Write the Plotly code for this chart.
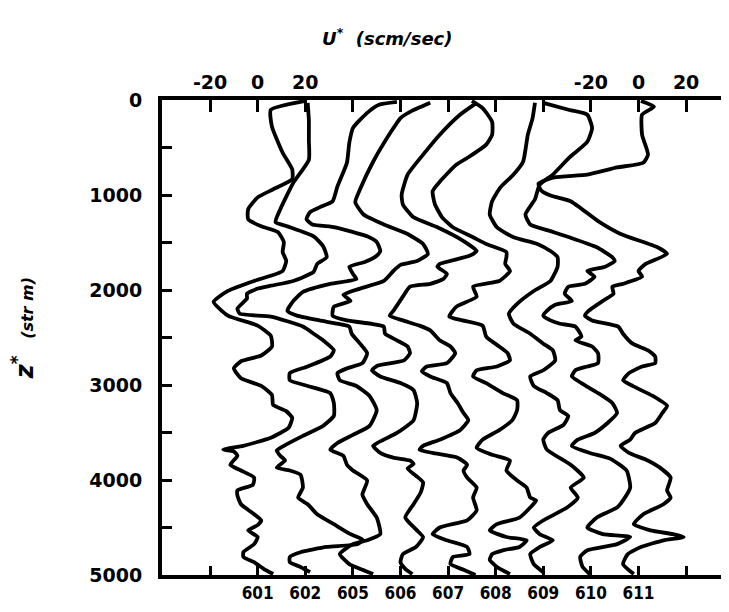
import plotly.graph_objects as go

stations = ["601", "602", "605", "606", "607", "608", "609", "610", "611"]

z601 = [10,105,280,555,730,835,940,1025,1150,1255,1330,1390,1495,1600,1695,1800,1850,1905,2010,2125,2270,2375,2480,2595,2690,2750,2825,2930,3010,3105,3210,3275,3345,3450,3555,3640,3680,3700,3745,3840,3900,3975,4050,4110,4165,4255,4360,4425,4475,4530,4600,4675,4760,4810,4865,4935,4990]
u601 = [20,5.5,6,10.5,14.5,14.5,6.5,0,-4,-4,1.5,8.5,11,10.5,12,10.5,5.5,-1.5,-12.5,-18.5,-12.5,0,5.5,6,1.5,-7,-10,-7,1.5,6,6.5,12,14.5,13,5.5,-6,-14.5,-10,-8.5,-11.5,-7,-1.5,-2,-8.5,-8.5,-7,-1.5,1.5,0,-4,0,-1.5,-6,-6,-1.5,2.5,6.5]

z602 = [30,210,420,630,870,1150,1285,1330,1435,1540,1655,1725,1810,1905,1955,1985,2040,2090,2195,2250,2280,2385,2460,2530,2635,2700,2805,2875,2950,3010,3085,3190,3325,3430,3535,3640,3690,3745,3795,3870,3900,3945,4080,4185,4255,4360,4465,4570,4625,4675,4705,4760,4810,4865,4915,4970]
u602 = [1,1.5,1.5,1.5,-5,-10.5,-12.5,-7.5,3.5,7.5,9,5,3.5,-5,-14.5,-20,-24.5,-24.5,-28.5,-27.5,-14.5,-1,3.5,7.5,12,10.5,1,-6.5,-6.5,1,10.5,12,12,7.5,-1,-9,-12,-10.5,-8.5,-12,-6.5,-2,-1,-3,1,5,12,19,24,22,9,-2,-6.5,-6.5,-2,2]

z605 = [20,50,135,295,450,660,910,1065,1130,1180,1255,1310,1340,1435,1495,1590,1640,1705,1755,1830,1885,1935,2020,2115,2220,2270,2320,2355,2385,2460,2565,2665,2770,2825,2875,2950,3010,3115,3265,3430,3525,3610,3680,3745,3840,3900,4005,4155,4255,4395,4570,4635,4675,4780,4885,4945,4990]
u605 = [18.5,11,6,0,-1.5,-2.5,-6.5,-8.5,-14,-18,-19.5,-17,-7.5,6,10,11.5,10,5,-1.5,0,1.5,-9.5,-21,-25,-27.5,-23.5,-14,-6.5,-1.5,-0.5,3,6,4,-2.5,-6.5,-5.5,1.5,7,10,7,0,-6.5,-9.5,-4,-2.5,0,6,4,6,10,11.5,6,0,-5.5,-1.5,4,8.5]

z606 = [30,125,190,335,650,940,1075,1205,1310,1410,1515,1620,1695,1735,1800,1905,1985,2050,2115,2175,2270,2320,2355,2385,2460,2530,2595,2665,2740,2795,2845,2910,2980,3055,3190,3370,3505,3575,3640,3715,3765,3795,3830,3880,3955,4025,4130,4255,4395,4520,4600,4705,4780,4865,4935,4990]
u606 = [12.5,4,0,-4,-11.5,-17,-19,-15.5,-7,3,9.5,11.5,7,0,-3,-7,-17,-24,-21,-28,-28.5,-22.5,-12.5,-7,-6.5,-1.5,3,4,1.5,-9.5,-12,-8.5,0,5.5,7,5.5,-1.5,-7,-11.5,-8.5,-3,4,5.5,3,6.5,9.5,8.5,5.5,2,6.5,9.5,6.5,1,0,2,5]

z607 = [30,155,365,575,785,995,1100,1235,1340,1485,1590,1640,1725,1755,1830,1885,1935,1965,2070,2220,2270,2320,2375,2425,2530,2595,2665,2770,2805,2855,2910,2980,3085,3190,3295,3370,3475,3575,3640,3680,3715,3765,3840,3900,3975,4080,4185,4320,4425,4500,4570,4635,4705,4780,4810,4885,4945,5000]
u607 = [12,5,-3.5,-10.5,-17,-19.5,-19,-14.5,-4.5,6.5,12,9,-3.5,-4.5,-0.5,-2,-7.5,-16,-19,-23,-24.5,-19,-12,-7.5,-3.5,1,3,-0.5,-9,-11,-7.5,-0.5,1,4,6.5,8.5,5,-3.5,-10.5,-12,-6.5,4,8,6.5,8,12,10.5,12,8,-3.5,-6.5,-0.5,8,9,2,1,6.5,11.5]

z608 = [10,85,230,365,470,595,680,860,960,1100,1235,1340,1445,1515,1600,1655,1725,1800,1905,1965,2070,2175,2280,2320,2375,2490,2595,2665,2740,2805,2845,2910,2980,3085,3160,3265,3370,3475,3575,3660,3735,3795,3900,4005,4080,4185,4215,4290,4395,4465,4530,4600,4635,4705,4740,4780,4840,4915,4990]
u608 = [-10,-5.5,-1.5,-1.5,-4,-11,-16.5,-23.5,-26.5,-25.5,-22.5,-18,-9.5,-4,4.5,4.5,4,6,1.5,-9.5,-8,-16.5,-19.5,-14,-5.5,-4,1.5,5,6,0.5,-8,-9.5,-4,3,9,9,7,1.5,-5.5,-8,-1.5,6,4.5,9,13,14.5,17,14.5,10,0.5,-2.5,4.5,13,10,3,-1.5,-2.5,0.5,6]

z609 = [30,190,365,650,785,920,1065,1205,1340,1445,1515,1590,1655,1755,1905,2010,2145,2250,2355,2460,2565,2635,2740,2845,2910,3010,3085,3160,3265,3325,3420,3505,3575,3680,3840,3975,4080,4185,4290,4425,4500,4570,4635,4705,4780,4885,4970]
u609 = [-3.5,-4.5,-6.5,-8.5,-12.5,-18,-21.5,-22.5,-19.5,-12.5,-2.5,3,6,6,3,-4,-11,-14.5,-12.5,-5.5,0,4,5,0,-5.5,-4,1.5,6,7,10.5,8.5,2,0,1.5,11.5,17,11.5,14.5,10,0,-4,-1.5,4,-1.5,-5.5,-4,0]

z610 = [30,105,155,295,440,605,785,890,1045,1205,1310,1380,1445,1550,1655,1695,1755,1800,1860,1935,1965,2040,2115,2155,2220,2270,2320,2355,2385,2490,2530,2595,2665,2770,2805,2845,2910,2980,3085,3190,3295,3400,3505,3575,3640,3715,3775,3900,4080,4215,4290,4395,4500,4570,4600,4675,4740,4810,4915,4990]
u610 = [-20,-9,-1.5,0.5,-1.5,-9,-16,-21.5,-23.5,-27.5,-25.5,-17,-9,2.5,9,10,6,-1.5,1.5,-2.5,-9.5,-11,-8,-15,-18.5,-20,-17,-13,-6.5,-4,-6.5,0.5,3,3,-1.5,-6.5,-8,-4,3,9,11,7,1.5,-5.5,-8,-0.5,8,15,16.5,13.5,11,2.5,-1.5,5,16.5,11,-1.5,-4.5,-3.5,-0.5]

z611 = [10,70,155,365,575,660,710,785,815,880,950,1005,1065,1275,1410,1550,1620,1725,1800,1860,1935,1965,2040,2115,2220,2270,2320,2385,2460,2565,2635,2700,2770,2805,2875,2950,3010,3115,3220,3295,3400,3505,3575,3640,3715,3785,3870,3975,4110,4185,4255,4360,4465,4530,4570,4600,4635,4705,4780,4885,4990]
u611 = [1,6.5,1.5,1.5,4,2,-9,-21.5,-35.5,-42,-41,-37,-28.5,-17,-7.5,8,12,3,0,1.5,-6.5,-11,-10.5,-15,-21,-22.5,-19.5,-8.5,-6.5,-2.5,4,7,7,1.5,-4,-6.5,-2.5,6,12,10,7,-1.5,-3.5,-7.5,-4,3,9,13.5,12,13.5,10.5,2,-2,5,14.5,19,10.5,1,-4.5,-6.5,-2]

profiles = [(z601, u601), (z602, u602), (z605, u605), (z606, u606), (z607, u607),
            (z608, u608), (z609, u609), (z610, u610), (z611, u611)]

u_step = 20  # each station's zero sits one 20 cm/s tick to the right of the previous one

top_labels = ["-20", "0", "20", "", "", "", "", "", "-20", "0", "20"]
depth_ticks = list(range(0, 5001, 500))
depth_labels = [str(d) if d % 1000 == 0 else "" for d in depth_ticks]

fig = go.Figure()
for i, (zz, uu) in enumerate(profiles):
    off = u_step * (i + 1)
    fig.add_trace(go.Scatter(
        x=[u + off for u in uu], y=zz, mode="lines",
        line=dict(color="black", width=3.8, shape="spline", smoothing=0.5),
        name=stations[i], showlegend=False, hoverinfo="skip"))

# helper trace for the mirrored (top / right) axes
fig.add_trace(go.Scatter(x=[0], y=[0], xaxis="x2", yaxis="y2", mode="markers",
                         marker=dict(opacity=0), showlegend=False, hoverinfo="skip"))

tickpos = [u_step * j for j in range(11)]
bold = dict(family="DejaVu Sans", size=19, color="black", weight="bold")

fig.update_layout(
    width=721, height=596,
    margin=dict(l=154, r=1, t=92, b=26),
    paper_bgcolor="white", plot_bgcolor="white",
    xaxis=dict(range=[-20.2, 217.6], tickvals=tickpos,
               ticktext=[""] + stations + [""],
               ticks="inside", ticklen=9, tickwidth=2.5, tickcolor="black",
               showline=True, linewidth=3.5, linecolor="black",
               showgrid=False, zeroline=False,
               tickfont=dict(family="DejaVu Sans Condensed, DejaVu Sans", size=17,
                             color="black", weight="bold")),
    xaxis2=dict(overlaying="x", side="top", matches="x", tickvals=tickpos,
                ticktext=top_labels, ticks="inside", ticklen=12, tickwidth=2.5,
                tickcolor="black", showline=True, linewidth=3.5, linecolor="black",
                showgrid=False, zeroline=False, tickfont=bold),
    yaxis=dict(range=[5000, 0], tickvals=depth_ticks, ticktext=depth_labels,
               ticks="inside", ticklen=10, tickwidth=3, tickcolor="black",
               showline=True, linewidth=4, linecolor="black",
               showgrid=False, zeroline=False, tickfont=bold,
               ticklabelstandoff=12),
    yaxis2=dict(overlaying="y", side="right", matches="y", tickvals=depth_ticks,
                showticklabels=False, ticks="inside", ticklen=6, tickwidth=3,
                tickcolor="black", showline=False, showgrid=False, zeroline=False),
    annotations=[
        dict(text="<b><i>U<sup>*</sup>  (scm/sec)</i></b>", xref="paper", yref="paper",
             x=0.398, y=1.132, xanchor="center", yanchor="middle", showarrow=False,
             font=dict(family="DejaVu Sans", size=18, color="black")),
        dict(text="<b><i>z<sup>*</sup>  <span style='font-size:16px'>(str m)</span></i></b>",
             xref="paper", yref="paper", x=-0.245, y=0.52, textangle=-90,
             xanchor="center", yanchor="middle",
             showarrow=False, font=dict(family="DejaVu Sans", size=24, color="black")),
    ],
)

fig.write_html("out.html")
